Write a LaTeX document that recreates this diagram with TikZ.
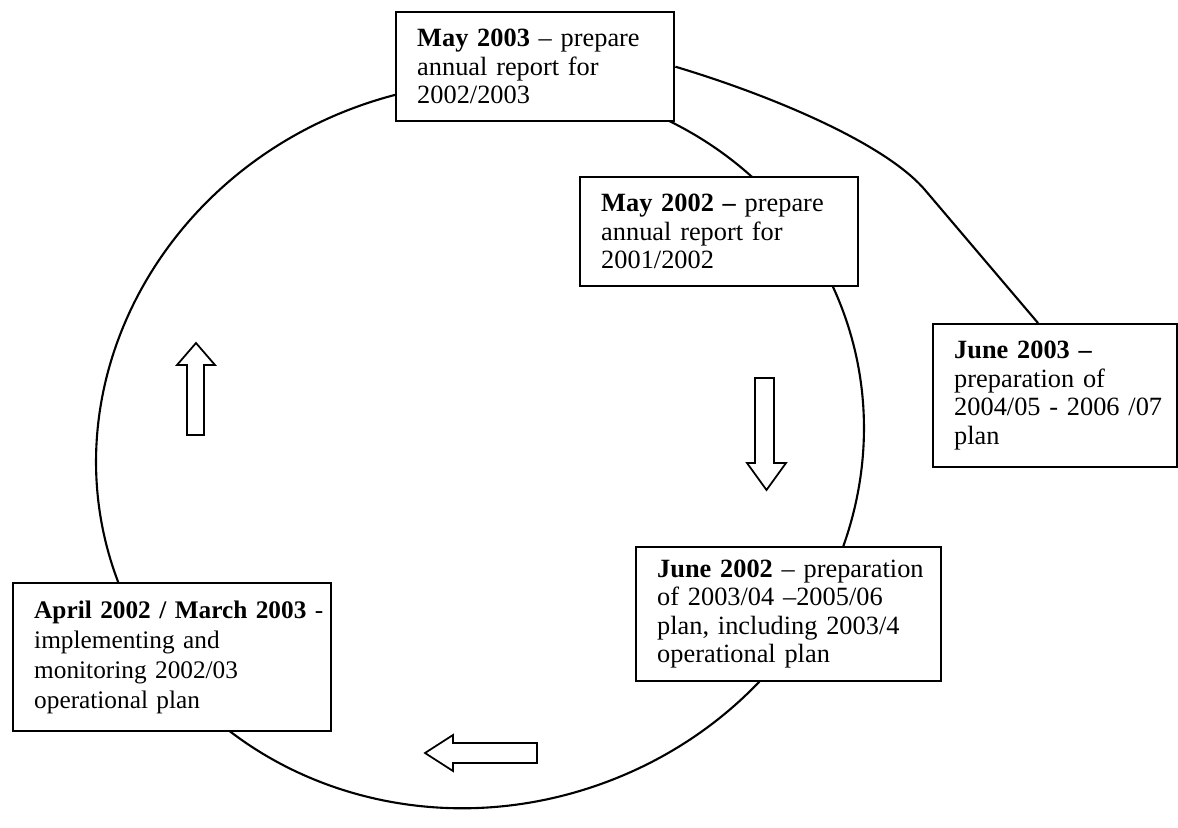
\documentclass[tikz,border=0pt]{standalone}
\usepackage{fontspec}
\setmainfont{Liberation Serif}
\usepackage{tikz}
\usetikzlibrary{calc,positioning}
\tikzset{
  ring/.style={draw=black, line width=1.2pt},
  link/.style={draw=black, line width=1.2pt, line join=round},
  box/.style={draw=black, fill=white, line width=1.4pt, anchor=north west, align=left,
    inner xsep=0.42cm, inner ysep=0pt, font=\fontsize{15}{16.2}\selectfont},
  blk/.style={draw=black, fill=white, line width=1pt, line join=miter},
}

\begin{document}
\begin{tikzpicture}[x=0.02cm, y=-0.02cm]
\useasboundingbox (0,0) rectangle (1178,828);
% the cycle
\draw[ring] (480,445) ellipse [x radius=7.74cm, y radius=7.2cm, rotate=20];
% stages
\node[box, text width=4.72cm, minimum height=2.18cm] (may03) at (395,11)
  {\textbf{May 2003} – prepare\\annual report for\\2002/2003};
\node[box, text width=4.72cm, minimum height=2.18cm] (may02) at (579,176)
  {\textbf{May 2002 –} prepare\\annual report for\\2001/2002};
\node[box, text width=4.04cm, minimum height=2.86cm] (jun03) at (932,323)
  {\textbf{June 2003 –}\\preparation of\\\mbox{2004/05 - 2006 /07}\\plan};
\node[box, text width=5.26cm, minimum height=2.68cm] (jun02) at (635,546)
  {\mbox{\textbf{June 2002} – preparation}\\of 2003/04 –2005/06\\plan, including 2003/4\\operational plan};
\node[box, text width=5.52cm, minimum height=2.96cm, font=\fontsize{14.4}{17}\selectfont] (apr02) at (12,582)
  {\mbox{\textbf{April 2002 / March 2003} -}\\implementing and\\monitoring 2002/03\\operational plan};
% jump to next year's plan
\coordinate (jtop) at (1038,323);
\draw[link] (may03.east) .. controls (770,95) and (885,143) .. (925,190) -- (jtop);
% direction arrows
\draw[blk] (187,435) -- (187,365) -- (177,365) -- (196,343) -- (215,365) -- (204,365) -- (204,435) -- cycle;
\draw[blk] (755,378) -- (755,463) -- (747,463) -- (766.5,490) -- (786,463) -- (774,463) -- (774,378) -- cycle;
\draw[blk] (537,743) -- (453,743) -- (453,735) -- (425,753) -- (453,771) -- (453,763) -- (537,763) -- cycle;
\end{tikzpicture}
\end{document}
